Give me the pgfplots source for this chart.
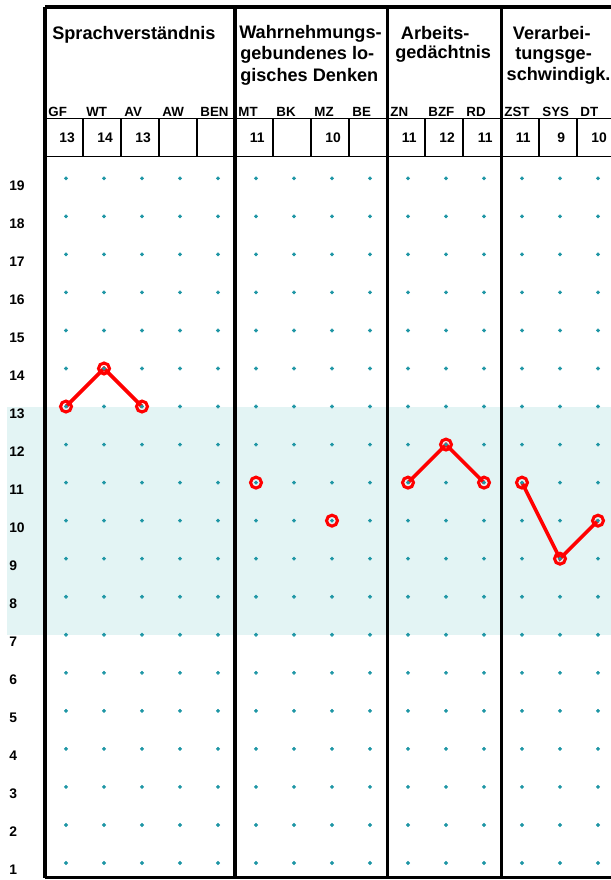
\documentclass[border=0pt]{standalone}
\usepackage{fontspec}
\setmainfont{Liberation Sans}
\usepackage{pgfplots}
\pgfplotsset{compat=1.18}
\definecolor{bandc}{RGB}{227,244,244}
\definecolor{dotc}{RGB}{30,150,165}
\begin{document}
\begin{tikzpicture}
\begin{axis}[name=ax, width=458.25pt, height=660pt, scale only axis,
  xmin=-1.7368, xmax=14.3421, ymin=0.5536, ymax=23.6872,
  axis lines=none, ticks=none, clip=false]
% normal range band
\fill[bandc] (axis cs:-1.553,7) rectangle (axis cs:14.3421,13);
% grid dots
\pgfplotsinvokeforeach{0,...,14}{
  \addplot[only marks, mark=*, mark size=1.25pt, color=dotc, forget plot]
    coordinates {(#1,1)(#1,2)(#1,3)(#1,4)(#1,5)(#1,6)(#1,7)(#1,8)(#1,9)(#1,10)
                 (#1,11)(#1,12)(#1,13)(#1,14)(#1,15)(#1,16)(#1,17)(#1,18)(#1,19)};
}
% frame: thick lines
\draw[line width=2.4pt] (axis cs:-0.55,0.617) -- (axis cs:-0.55,23.503);
\draw[line width=2.4pt] (axis cs:4.45,0.617) -- (axis cs:4.45,23.503);
\draw[line width=2.4pt] (axis cs:8.45,0.617) -- (axis cs:8.45,23.503);
\draw[line width=2.4pt] (axis cs:11.45,0.617) -- (axis cs:11.45,23.503);
\draw[line width=2.4pt] (axis cs:-0.55,23.503) -- (axis cs:14.3421,23.503);
\draw[line width=2.4pt] (axis cs:-0.55,0.617) -- (axis cs:14.3421,0.617);
% header rows
\draw[line width=1.2pt] (axis cs:-0.55,20.575) -- (axis cs:14.3421,20.575);
\draw[line width=1.2pt] (axis cs:-0.55,19.573) -- (axis cs:14.3421,19.573);
\pgfplotsinvokeforeach{0.455,1.455,2.455,3.455,5.455,6.455,7.455,9.455,10.455,12.455,13.455}{
  \draw[line width=1.2pt] (axis cs:#1,19.573) -- (axis cs:#1,20.575);
}
% y labels
\pgfplotsinvokeforeach{1,...,19}{
  \node[anchor=base west, inner sep=0pt, yshift=-8.8pt, font=\fontsize{10.4}{12}\selectfont\bfseries] at (axis cs:-1.5,#1) {#1};
}
% group titles
\tikzset{ttl/.style={anchor=base west, inner sep=0pt, font=\fontsize{13.6}{16}\selectfont\bfseries}}
\node[ttl] at (axis cs:-0.368,22.654) {Sprachverständnis};
\node[ttl] at (axis cs:4.553,22.675) {Wahrnehmungs-};
\node[ttl] at (axis cs:4.579,22.110) {gebundenes lo-};
\node[ttl] at (axis cs:4.579,21.544) {gisches Denken};
\node[ttl] at (axis cs:8.808,22.636) {Arbeits-};
\node[ttl] at (axis cs:8.658,22.150) {gedächtnis};
\node[ttl] at (axis cs:11.755,22.636) {Verarbei-};
\node[ttl] at (axis cs:11.816,22.110) {tungsge-};
\node[ttl] at (axis cs:11.59,21.570) {schwindigk.};
% subtest abbreviations
\tikzset{abb/.style={anchor=base west, inner sep=0pt, font=\fontsize{10}{12}\selectfont\bfseries}}
\node[abb] at (axis cs:-0.47,20.63) {GF};
\node[abb] at (axis cs:0.53,20.63) {WT};
\node[abb] at (axis cs:1.53,20.63) {AV};
\node[abb] at (axis cs:2.53,20.63) {AW};
\node[abb] at (axis cs:3.53,20.63) {BEN};
\node[abb] at (axis cs:4.53,20.63) {MT};
\node[abb] at (axis cs:5.53,20.63) {BK};
\node[abb] at (axis cs:6.53,20.63) {MZ};
\node[abb] at (axis cs:7.53,20.63) {BE};
\node[abb] at (axis cs:8.53,20.63) {ZN};
\node[abb] at (axis cs:9.53,20.63) {BZF};
\node[abb] at (axis cs:10.53,20.63) {RD};
\node[abb] at (axis cs:11.53,20.63) {ZST};
\node[abb] at (axis cs:12.53,20.63) {SYS};
\node[abb] at (axis cs:13.53,20.63) {DT};
% values row
\tikzset{val/.style={anchor=base, inner sep=0pt, font=\fontsize{10.4}{12}\selectfont\bfseries}}
\node[val] at (axis cs:0.03,19.936) {13};
\node[val] at (axis cs:1.03,19.936) {14};
\node[val] at (axis cs:2.03,19.936) {13};
\node[val] at (axis cs:5.03,19.936) {11};
\node[val] at (axis cs:7.03,19.936) {10};
\node[val] at (axis cs:9.03,19.936) {11};
\node[val] at (axis cs:10.03,19.936) {12};
\node[val] at (axis cs:11.03,19.936) {11};
\node[val] at (axis cs:12.03,19.936) {11};
\node[val] at (axis cs:13.03,19.936) {9};
\node[val] at (axis cs:14.03,19.936) {10};
% profile
\pgfplotsset{prof/.style={color=red, line width=2.7pt, mark=o, mark size=4.1pt,
  mark options={line width=2.3pt, fill=white, solid}}}
\addplot[prof] coordinates {(0,13)(1,14)(2,13)};
\addplot[prof] coordinates {(5,11)};
\addplot[prof] coordinates {(7,10)};
\addplot[prof] coordinates {(9,11)(10,12)(11,11)};
\addplot[prof] coordinates {(12,11)(13,9)(14,10)};
\end{axis}
\pgfresetboundingbox
\path[use as bounding box] (ax.south west) rectangle (ax.north east);
\end{tikzpicture}
\end{document}
